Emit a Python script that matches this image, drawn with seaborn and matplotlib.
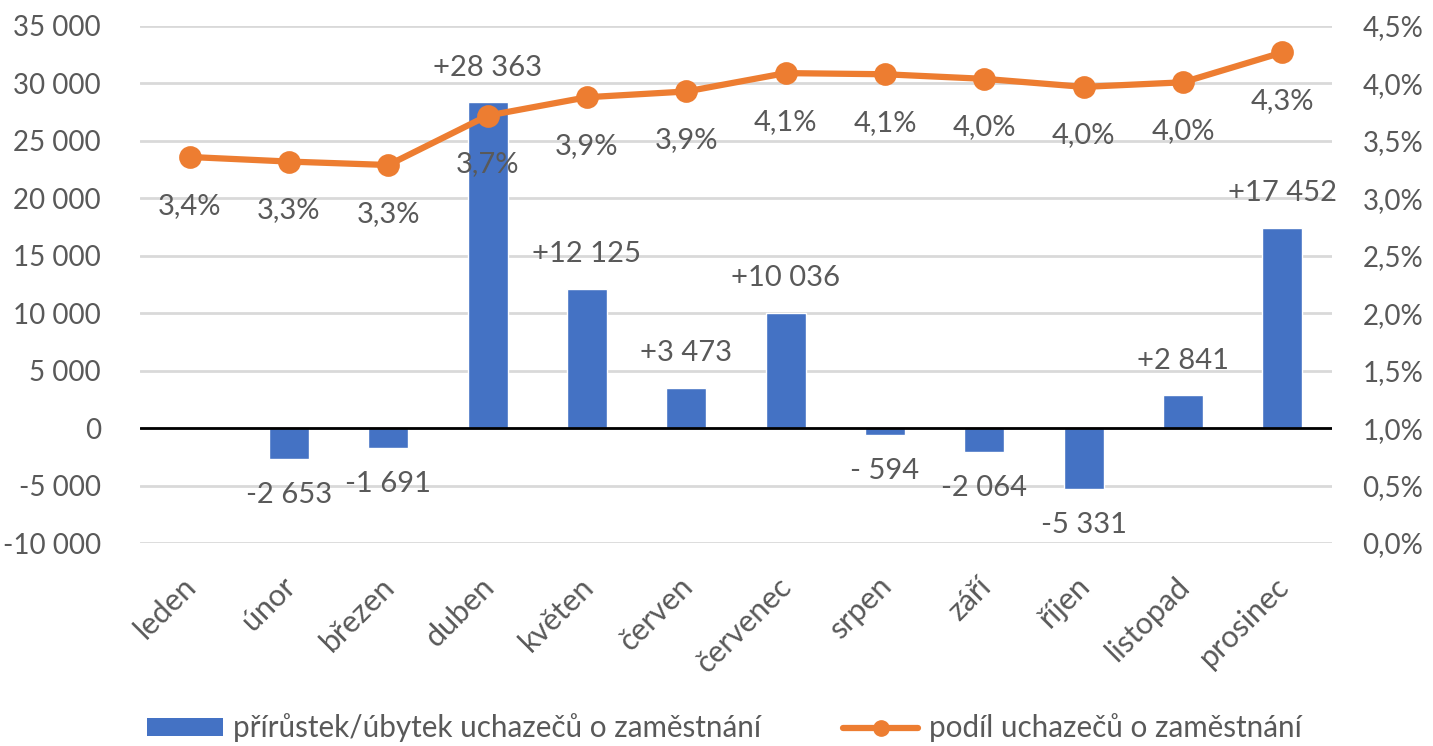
import matplotlib
matplotlib.use("Agg")
import matplotlib.pyplot as plt
import matplotlib.transforms as mtransforms
from matplotlib.patches import Patch
from matplotlib.lines import Line2D
import seaborn as sns
import pandas as pd

months = ["leden", "únor", "březen", "duben", "květen", "červen", "červenec",
          "srpen", "září", "říjen", "listopad", "prosinec"]
change = [0, -2653, -1691, 28363, 12125, 3473, 10036, -594, -2064, -5331, 2841, 17452]
share = [3.36, 3.32, 3.29, 3.72, 3.88, 3.93, 4.09, 4.08, 4.04, 3.97, 4.01, 4.27]
left_ticks = [-10000, -5000, 0, 5000, 10000, 15000, 20000, 25000, 30000, 35000]
right_ticks = [0.0, 0.5, 1.0, 1.5, 2.0, 2.5, 3.0, 3.5, 4.0, 4.5]
bar_name = "přírůstek/úbytek uchazečů o zaměstnání"
line_name = "podíl uchazečů o zaměstnání"

BLUE = "#4472C4"
ORANGE = "#ED7D31"
GRAY = "#595959"
GRID = "#D9D9D9"

sns.set_theme(style="white")
plt.rcParams["font.family"] = ["Lato", "DejaVu Sans"]
FS_TICK = 20
FS_X = 22
FS_DATA = 21
FS_LEG = 21.3

df = pd.DataFrame({"month": months, "change": change, "share": share})

fig = plt.figure(figsize=(14.33, 7.46), dpi=100)
ax = fig.add_axes([140 / 1433, 1 - 543 / 746, (1332 - 140) / 1433, (543 - 26) / 746])

sns.barplot(data=df, x="month", y="change", color=BLUE, saturation=1, width=0.4, ax=ax, zorder=2)
ax.set_ylim(-10000, 35000)
ax.set_xlim(-0.5, 11.5)
ax.set_yticks(left_ticks)
ax.set_yticklabels([f"{v:,}".replace(",", " ") for v in left_ticks])
ax.yaxis.grid(True, color=GRID, linewidth=2, zorder=0)
ax.set_axisbelow(True)
ax.axhline(0, color="black", linewidth=2, zorder=3)
for s in ax.spines.values():
    s.set_visible(False)
ax.set_xlabel("")
ax.set_ylabel("")
ax.tick_params(axis="both", length=0, colors=GRAY)
ax.tick_params(axis="y", pad=28, labelsize=FS_TICK)
ax.tick_params(axis="x", labelsize=FS_X)

for lbl in ax.get_xticklabels():
    lbl.set_rotation(45)
    lbl.set_ha("right")
    lbl.set_va("top")
    lbl.set_rotation_mode("anchor")
    lbl.set_transform(lbl.get_transform() + mtransforms.ScaledTranslation(-0.08, -0.24, fig.dpi_scale_trans))

def fmt_change(v):
    if v > 0:
        return "+" + f"{v:,}".replace(",", " ")
    s = f"{abs(v):,}".replace(",", " ")
    return "- " + s if abs(v) < 1000 else "-" + s

for i, v in enumerate(change):
    if v == 0:
        continue
    off = 25 if v > 0 else -26
    ax.annotate(fmt_change(v), (i, v), xytext=(0, off), textcoords="offset points",
                ha="center", va="center", fontsize=FS_DATA, color=GRAY, zorder=5)

ax2 = ax.twinx()
sns.pointplot(data=df, x="month", y="share", color=ORANGE, ax=ax2,
              markers="o", markersize=13, linewidth=4.5, zorder=4)
ax2.set_ylim(0, 4.5)
ax2.set_xlim(-0.5, 11.5)
ax2.set_yticks(right_ticks)
ax2.set_yticklabels([f"{v:.1f}%".replace(".", ",") for v in right_ticks])
ax2.tick_params(axis="both", length=0, labelsize=FS_TICK, colors=GRAY)
ax2.tick_params(axis="y", pad=22)
ax2.grid(False)
ax2.set_ylabel("")
ax2.set_xlabel("")
for s in ax2.spines.values():
    s.set_visible(False)

for i, v in enumerate(share):
    ax2.annotate(f"{v:.1f}%".replace(".", ","), (i, v), xytext=(0, -35), textcoords="offset points",
                 ha="center", va="center", fontsize=FS_DATA, color=GRAY, zorder=5)

handles = [Patch(facecolor=BLUE, edgecolor="none"),
           Line2D([0], [0], color=ORANGE, linewidth=4.5, marker="o", markersize=11)]
leg = fig.legend(handles, [bar_name, line_name], loc="center",
                 bbox_to_anchor=(0.5 + 8 / 1433, 1 - 728 / 746),
                 ncol=2, frameon=False, fontsize=FS_LEG, handlelength=2.55, handleheight=0.55,
                 columnspacing=2.75, handletextpad=0.37, labelcolor=GRAY)

fig.savefig("out.png", dpi=100)
